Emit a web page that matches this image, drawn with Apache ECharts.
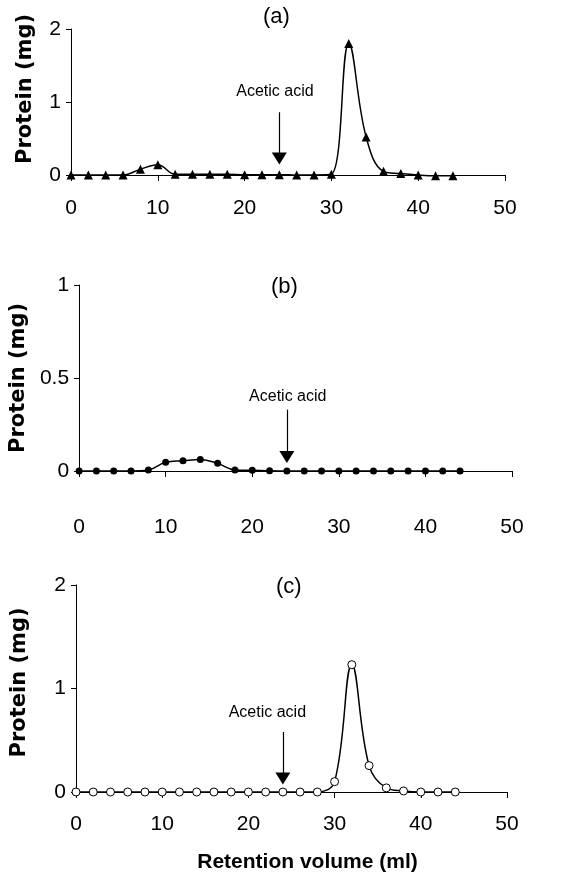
<!DOCTYPE html>
<html>
<head>
<meta charset="utf-8">
<script src="https://cdn.jsdelivr.net/npm/echarts@6/dist/echarts.min.js"></script>
<style>
  html, body { margin: 0; background: #fff; }
  #chart { width: 579px; height: 875px; }
</style>
</head>
<body>
<div id="chart"></div>
<script>
// Retention volume (ml) of each fraction
const volume = [0, 2, 4, 6, 8, 10, 12, 14, 16, 18, 20, 22, 24, 26, 28, 30, 32, 34, 36, 38, 40, 42, 44]
// Protein (mg) per panel
const proteinA = [0, 0, 0, 0, 0.08, 0.14, 0.01, 0.01, 0.01, 0.01, 0.005, 0.005, 0.005, 0, 0, 0.01, 1.8, 0.52, 0.05, 0.02, 0, -0.01, -0.01]
const proteinB = [0, 0, 0, 0, 0.005, 0.047, 0.055, 0.062, 0.041, 0.006, 0.004, 0.001, 0, 0, 0, 0, 0, 0, 0, 0, 0, 0, 0]
const proteinC = [0, 0, 0, 0, 0, 0, 0, 0, 0, 0, 0, 0, 0, 0, 0, 0.10, 1.23, 0.255, 0.04, 0.01, 0, 0, 0]

const panelLabels = ['(a)', '(b)', '(c)']
const yMax = [2, 1, 2]
const yStep = [1, 0.5, 1]

// acetic acid annotation (data coords)
const acidVolume = 24
const arrowTop = [0.86, 0.33, 0.58]
const arrowHead = [0.226, 0.075, 0.13]
const acidTextX = [23.5, 24.1, 22.2]
const acidTextY = [1.14, 0.40, 0.77]

const font = 'Liberation Sans, Arial, sans-serif'
const grids = [
  { left: 71, right: 74, top: 29, height: 146 },
  { left: 79, right: 67, top: 285, height: 186 },
  { left: 76, right: 72, top: 585, height: 207 }
]
const xLabelMargin = [23, 46, 22]
const yNameGap = [35, 44, 46]
const yNameShift = [26, 0, 12]

const symbols = [
  { symbol: 'triangle', symbolSize: 9, itemStyle: { color: '#000' } },
  { symbol: 'circle', symbolSize: 7, itemStyle: { color: '#000' } },
  { symbol: 'circle', symbolSize: 8, itemStyle: { color: '#fff', borderColor: '#000', borderWidth: 1 } }
]
const allData = [proteinA, proteinB, proteinC]

const chart = echarts.init(document.getElementById('chart'))

const xAxes = grids.map((g, i) => ({
  type: 'value', gridIndex: i, min: 0, max: 50, interval: 10,
  axisLine: { lineStyle: { color: '#000', width: 1 } },
  axisTick: { length: 6, lineStyle: { color: '#000' } },
  splitLine: { show: false },
  axisLabel: { color: '#000', fontSize: 21, fontFamily: font, margin: xLabelMargin[i] },
  name: i === 2 ? 'Retention volume (ml)' : '',
  nameLocation: 'middle',
  nameGap: 60,
  nameTextStyle: { color: '#000', fontSize: 21, fontWeight: 'bold', fontFamily: font, padding: [0, 0, 0, 32] }
}))

const yAxes = grids.map((g, i) => ({
  type: 'value', gridIndex: i, min: 0, max: yMax[i], interval: yStep[i],
  axisLine: { show: true, lineStyle: { color: '#000', width: 1 } },
  axisTick: { show: true, length: 5, lineStyle: { color: '#000' } },
  splitLine: { show: false },
  axisLabel: { color: '#000', fontSize: 21, fontFamily: font, margin: 10 },
  name: 'Protein (mg)',
  nameLocation: 'middle',
  nameRotate: 90,
  nameGap: yNameGap[i],
  nameTextStyle: {
    color: '#000', fontSize: 21, fontWeight: 'bold', fontFamily: 'DejaVu Sans, sans-serif',
    padding: [0, 0, 0, yNameShift[i]]
  }
}))

const series = allData.map((vals, i) => ({
  type: 'line',
  xAxisIndex: i, yAxisIndex: i,
  data: volume.map((v, k) => [v, vals[k]]),
  smooth: 0.4,
  clip: false,
  ...symbols[i],
  lineStyle: { color: '#000', width: 1.5 },
  animation: false,
  markLine: {
    silent: true,
    animation: false,
    symbol: ['none', 'none'],
    lineStyle: { color: '#000', width: 1.2, type: 'solid' },
    label: { show: false },
    data: [[{ coord: [acidVolume, arrowTop[i]] }, { coord: [acidVolume, arrowHead[i]] }]]
  },
  markPoint: {
    silent: true,
    animation: false,
    data: [
      {
        coord: [acidTextX[i], acidTextY[i]],
        symbol: 'circle', symbolSize: 0,
        label: {
          show: true, position: 'inside', formatter: 'Acetic acid',
          color: '#000', fontSize: 16, fontFamily: font
        }
      },
      {
        coord: [acidVolume, arrowHead[i]],
        symbol: 'triangle', symbolSize: [15, 12], symbolRotate: 180,
        itemStyle: { color: '#000' },
        label: { show: false }
      }
    ]
  }
}))

chart.setOption({
  backgroundColor: '#fff',
  animation: false,
  title: [
    { text: panelLabels[0], left: 258, top: 1 },
    { text: panelLabels[1], left: 266, top: 271 },
    { text: panelLabels[2], left: 271, top: 571 }
  ].map(t => ({ ...t, textStyle: { color: '#000', fontSize: 22, fontWeight: 'normal', fontFamily: font } })),
  grid: grids,
  xAxis: xAxes,
  yAxis: yAxes,
  series: series
})
</script>
</body>
</html>
